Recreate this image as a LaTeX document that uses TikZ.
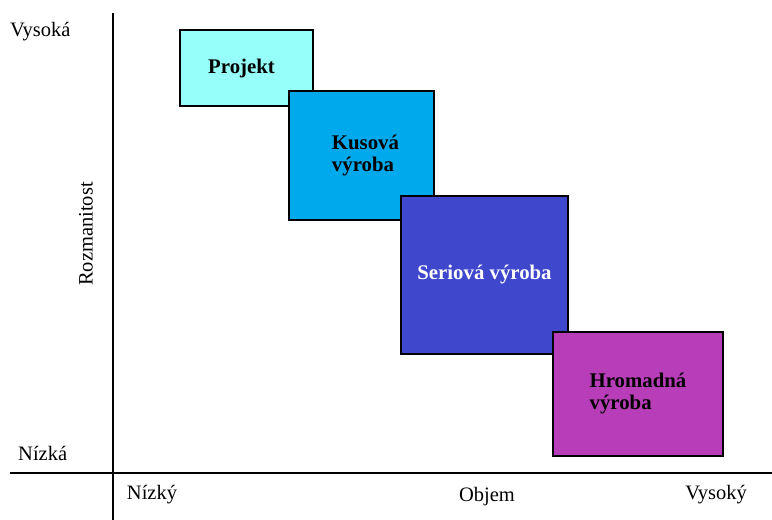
\documentclass[tikz,border=0pt]{standalone}
\usepackage{fontspec}
\setmainfont{Liberation Serif}
\begin{document}
\begin{tikzpicture}[x=1pt,y=-1pt,
  axis/.style={line width=2.6pt},
  field/.style={draw=black,line width=1.8pt,inner sep=0pt,font=\fontsize{20.8}{22}\selectfont\bfseries,align=left},
  lbl/.style={font=\fontsize{20.5}{22}\selectfont,inner sep=0pt}]
\useasboundingbox (0,0) rectangle (772,520);
\definecolor{cProj}{RGB}{150,255,250}
\definecolor{cKus}{RGB}{0,168,236}
\definecolor{cSer}{RGB}{63,72,204}
\definecolor{cHrom}{RGB}{184,61,184}

% axes
\coordinate (ytop) at (113,13);
\coordinate (ybot) at (113,520);
\coordinate (xl) at (10,473);
\coordinate (xr) at (772,473);
\draw[axis] (ytop) -- (ybot);
\draw[axis] (xl) -- (xr);

% production types, each one overlapping the previous
\node[field,fill=cProj,minimum width=133,minimum height=76] (proj) at (246.5,68) {Projekt\hspace*{10pt}};
\node[field,fill=cKus,minimum width=145,minimum height=129] (kus) at (361.5,155.5) {\hspace*{8pt}Kusová\\\hspace*{8pt}výroba};
\node[field,fill=cSer,text=white,minimum width=167,minimum height=158] (ser) at (484.5,275) {Seriová výroba};
\node[field,fill=cHrom,minimum width=170,minimum height=124] (hrom) at (638,394) {Hromadná\\výroba};

% axis labels
\node[lbl,anchor=west] (vy) at (10,32) {Vysoká};
\node[lbl,anchor=west] (ni) at (18,453) {Nízká};
\node[lbl,rotate=90] (roz) at (86,234) {Rozmanitost};
\node[lbl] (nk) at (152,495) {Nízký};
\node[lbl] (obj) at (487,497) {Objem};
\node[lbl] (vk) at (716,495) {Vysoký};
\end{tikzpicture}
\end{document}
